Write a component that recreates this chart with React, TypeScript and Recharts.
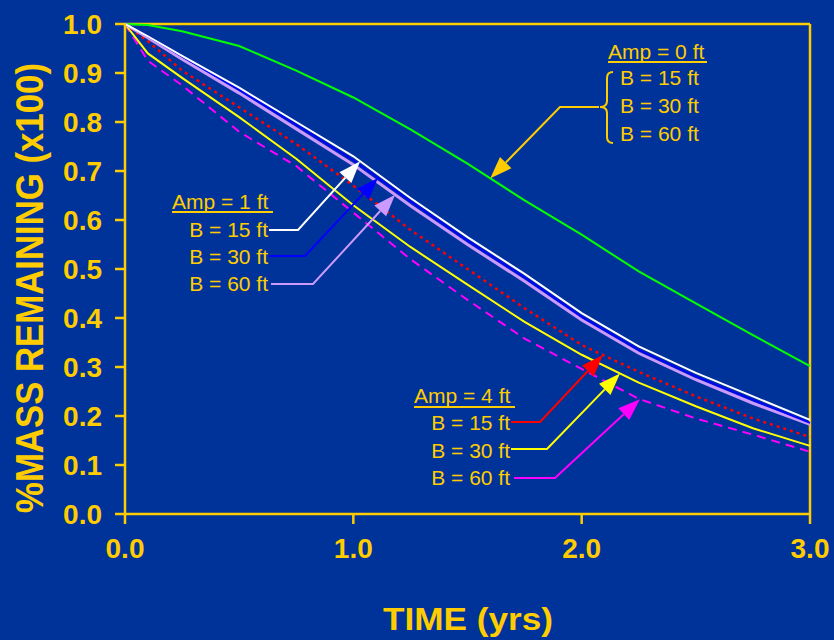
import { LineChart, Line, XAxis, YAxis, ReferenceLine } from 'recharts';

// time axis (yrs) shared by all runs
const TIME = [0, 0.1, 0.25, 0.5, 0.75, 1.0, 1.25, 1.5, 1.75, 2.0, 2.25, 2.5, 2.75, 3.0];

// fraction of mass remaining for each run
const AMP0 = [1.0, 0.998, 0.985, 0.955, 0.905, 0.85, 0.785, 0.715, 0.64, 0.57, 0.495, 0.43, 0.365, 0.302];
const AMP1_B15 = [1.0, 0.975, 0.935, 0.87, 0.8, 0.73, 0.645, 0.565, 0.49, 0.41, 0.342, 0.288, 0.24, 0.192];
const AMP1_B30 = [1.0, 0.975, 0.934, 0.866, 0.794, 0.722, 0.638, 0.558, 0.483, 0.403, 0.335, 0.281, 0.233, 0.186];
const AMP1_B60 = [1.0, 0.972, 0.928, 0.859, 0.786, 0.713, 0.629, 0.55, 0.475, 0.396, 0.328, 0.274, 0.226, 0.183];
const AMP4_B15 = [1.0, 0.965, 0.905, 0.83, 0.755, 0.67, 0.58, 0.5, 0.42, 0.345, 0.29, 0.24, 0.195, 0.157];
const AMP4_B30 = [1.0, 0.94, 0.89, 0.81, 0.725, 0.63, 0.545, 0.468, 0.392, 0.325, 0.268, 0.22, 0.175, 0.139];
const AMP4_B60 = [1.0, 0.925, 0.875, 0.78, 0.71, 0.615, 0.52, 0.437, 0.358, 0.296, 0.235, 0.195, 0.162, 0.127];

const X_TICKS = [0, 1, 2, 3];
const Y_TICKS = [0, 0.1, 0.2, 0.3, 0.4, 0.5, 0.6, 0.7, 0.8, 0.9, 1.0];
const B_LABELS = ['B = 15 ft', 'B = 30 ft', 'B = 60 ft'];

const data = TIME.map((t, i) => ({
  t,
  amp0: AMP0[i],
  a1b15: AMP1_B15[i],
  a1b30: AMP1_B30[i],
  a1b60: AMP1_B60[i],
  a4b15: AMP4_B15[i],
  a4b30: AMP4_B30[i],
  a4b60: AMP4_B60[i],
}));

const BG = '#003399';
const GOLD = '#FFCC00';
const FONT = 'Arial, "Liberation Sans", sans-serif';

const W = 834;
const H = 640;
const MARGIN = { top: 24, right: 24, left: 0, bottom: 0 };
const Y_AXIS_W = 125;
const X_AXIS_H = 126;
const X0 = MARGIN.left + Y_AXIS_W;
const X1 = W - MARGIN.right;
const Y0 = MARGIN.top;
const Y1 = H - MARGIN.bottom - X_AXIS_H;

const px = (t: number) => X0 + (t / 3) * (X1 - X0);
const py = (v: number) => Y1 - v * (Y1 - Y0);

// value of a run at time t, linear between samples
function valueAt(series: number[], t: number) {
  for (let i = 1; i < TIME.length; i++) {
    if (t <= TIME[i]) {
      const f = (t - TIME[i - 1]) / (TIME[i] - TIME[i - 1]);
      return series[i - 1] + f * (series[i] - series[i - 1]);
    }
  }
  return series[series.length - 1];
}

type LeaderProps = {
  start: [number, number];
  elbowX: number;
  series: number[];
  at: number;
  color: string;
};

// label leader: short horizontal run, then diagonal to an arrowhead on the curve
function Leader({ start, elbowX, series, at, color }: LeaderProps) {
  const tx = px(at);
  const ty = py(valueAt(series, at));
  const ex = elbowX;
  const ey = start[1];
  const dx = tx - ex;
  const dy = ty - ey;
  const len = Math.hypot(dx, dy);
  const ux = dx / len;
  const uy = dy / len;
  const headLen = 22;
  const hw = 8;
  const bx = tx - ux * headLen;
  const by = ty - uy * headLen;
  const pts = `${tx},${ty} ${bx - uy * hw},${by + ux * hw} ${bx + uy * hw},${by - ux * hw}`;
  return (
    <g>
      <polyline
        points={`${start[0]},${start[1]} ${ex},${ey} ${bx},${by}`}
        fill="none"
        stroke={color}
        strokeWidth={2}
      />
      <polygon points={pts} fill={color} />
    </g>
  );
}

function Annotations() {
  const txt = { fill: GOLD, fontFamily: FONT, fontSize: 21 };
  return (
    <svg width={W} height={H} style={{ position: 'absolute', left: 0, top: 0, pointerEvents: 'none' }}>
      {/* axis titles */}
      <text
        transform="translate(43, 288) rotate(-90)"
        textAnchor="middle"
        fill={GOLD}
        fontFamily={FONT}
        fontWeight="bold"
        fontSize={38}
        textLength={450}
        lengthAdjust="spacingAndGlyphs"
      >
        %MASS REMAINING (x100)
      </text>
      <text
        x={468}
        y={630}
        textAnchor="middle"
        fill={GOLD}
        fontFamily={FONT}
        fontWeight="bold"
        fontSize={32}
        textLength={170}
        lengthAdjust="spacingAndGlyphs"
      >
        TIME (yrs)
      </text>

      {/* Amp = 0 ft */}
      <text x={608} y={59} {...txt}>Amp = 0 ft</text>
      <line x1={608} y1={62} x2={707} y2={62} stroke={GOLD} strokeWidth={2} />
      {B_LABELS.map((s, i) => (
        <text key={s} x={620} y={85 + i * 28} {...txt}>{s}</text>
      ))}
      <path
        d="M 613 72 Q 607 72 607 78 L 607 101 Q 607 107 600 107 Q 607 107 607 113 L 607 137 Q 607 143 613 143"
        fill="none"
        stroke={GOLD}
        strokeWidth={2}
      />
      <Leader start={[599, 107]} elbowX={560} series={AMP0} at={1.6} color={GOLD} />

      {/* Amp = 1 ft */}
      <text x={172} y={209} {...txt}>Amp = 1 ft</text>
      <line x1={172} y1={212} x2={273} y2={212} stroke={GOLD} strokeWidth={2} />
      {B_LABELS.map((s, i) => (
        <text key={s} x={268} y={237 + i * 27} textAnchor="end" {...txt}>{s}</text>
      ))}
      <Leader start={[269, 230]} elbowX={298} series={AMP1_B15} at={1.03} color="#FFFFFF" />
      <Leader start={[269, 256]} elbowX={305} series={AMP1_B30} at={1.108} color="#0000FF" />
      <Leader start={[271, 284]} elbowX={313} series={AMP1_B60} at={1.183} color="#CC99FF" />

      {/* Amp = 4 ft */}
      <text x={414} y={403} {...txt}>Amp = 4 ft</text>
      <line x1={414} y1={407} x2={515} y2={407} stroke={GOLD} strokeWidth={2} />
      {B_LABELS.map((s, i) => (
        <text key={s} x={510} y={430 + i * 27.5} textAnchor="end" {...txt}>{s}</text>
      ))}
      <Leader start={[511, 422]} elbowX={540} series={AMP4_B15} at={2.093} color="#FF0000" />
      <Leader start={[511, 449]} elbowX={547} series={AMP4_B30} at={2.168} color="#FFFF00" />
      <Leader start={[514, 478]} elbowX={555} series={AMP4_B60} at={2.255} color="#FF00FF" />
    </svg>
  );
}

export default function App() {
  const tickStyle = { fill: GOLD, fontSize: 28, fontWeight: 'bold', fontFamily: FONT };
  const axisStroke = { stroke: GOLD, strokeWidth: 2.5 };
  return (
    <div style={{ position: 'fixed', left: 0, top: 0, width: W, height: H, background: BG, overflow: 'hidden' }}>
      <LineChart width={W} height={H} data={data} margin={MARGIN}>
        <XAxis
          dataKey="t"
          type="number"
          domain={[0, 3]}
          ticks={X_TICKS}
          tickFormatter={(v: number) => v.toFixed(1)}
          height={X_AXIS_H}
          axisLine={axisStroke}
          tickLine={axisStroke}
          tickSize={10}
          tickMargin={14}
          tick={tickStyle}
        />
        <YAxis
          type="number"
          domain={[0, 1]}
          ticks={Y_TICKS}
          tickFormatter={(v: number) => v.toFixed(1)}
          width={Y_AXIS_W}
          axisLine={axisStroke}
          tickLine={axisStroke}
          tickSize={10}
          tickMargin={13}
          tick={tickStyle}
        />
        <ReferenceLine y={1} stroke={GOLD} strokeWidth={2.5} />
        <ReferenceLine x={3} stroke={GOLD} strokeWidth={2.5} />
        <Line dataKey="amp0" type="linear" stroke="#00FF00" strokeWidth={2} dot={false} isAnimationActive={false} />
        <Line dataKey="a4b60" type="linear" stroke="#FF00FF" strokeWidth={2} strokeDasharray="9 6" dot={false} isAnimationActive={false} />
        <Line dataKey="a4b30" type="linear" stroke="#FFFF00" strokeWidth={2} dot={false} isAnimationActive={false} />
        <Line dataKey="a4b15" type="linear" stroke="#FF0000" strokeWidth={2.5} strokeDasharray="3 4" dot={false} isAnimationActive={false} />
        <Line dataKey="a1b60" type="linear" stroke="#CC99FF" strokeWidth={3} dot={false} isAnimationActive={false} />
        <Line dataKey="a1b30" type="linear" stroke="#0000FF" strokeWidth={2} dot={false} isAnimationActive={false} />
        <Line dataKey="a1b15" type="linear" stroke="#FFFFFF" strokeWidth={2} dot={false} isAnimationActive={false} />
      </LineChart>
      <Annotations />
    </div>
  );
}
